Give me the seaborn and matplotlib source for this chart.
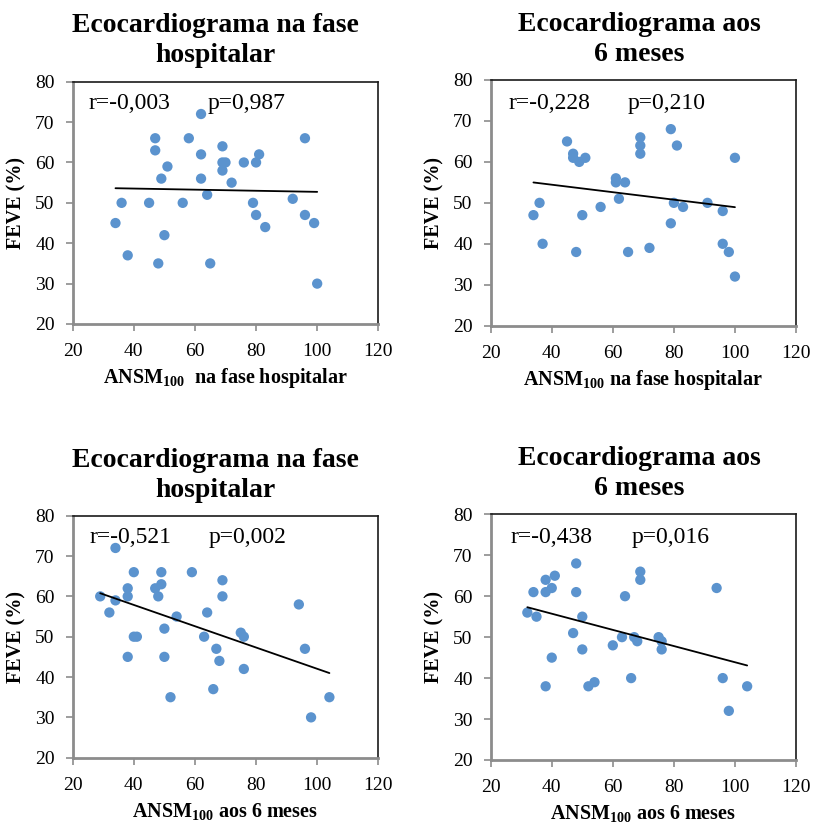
import numpy as np
import pandas as pd
import matplotlib
matplotlib.use("Agg")
import matplotlib.pyplot as plt
import seaborn as sns

# ---------------- data ----------------
# Panel 1: ANSM100 (hospital phase) vs FEVE (hospital echo)
p1_x = [62, 47, 58, 96, 69, 47, 62, 81, 69, 70, 76, 80, 51, 69, 49, 62, 72, 64,
        36, 45, 56, 79, 92, 80, 96, 34, 99, 83, 50, 38, 48, 65, 100]
p1_y = [72, 66, 66, 66, 64, 63, 62, 62, 60, 60, 60, 60, 59, 58, 56, 56, 55, 52,
        50, 50, 50, 50, 51, 47, 47, 45, 45, 44, 42, 37, 35, 35, 30]

# Panel 2: ANSM100 (hospital phase) vs FEVE (6 months echo)
p2_x = [79, 45, 69, 69, 81, 47, 47, 69, 49, 51, 100, 61, 61, 64, 62, 36, 80, 91,
        56, 83, 96, 34, 50, 79, 37, 96, 72, 48, 65, 98, 100]
p2_y = [68, 65, 66, 64, 64, 62, 61, 62, 60, 61, 61, 56, 55, 55, 51, 50, 50, 50,
        49, 49, 48, 47, 47, 45, 40, 40, 39, 38, 38, 38, 32]

# Panel 3: ANSM100 (6 months) vs FEVE (hospital echo)
p3_x = [34, 40, 49, 59, 69, 38, 47, 49, 29, 38, 48, 69, 34, 94, 32, 64, 54, 50,
        75, 76, 40, 41, 63, 67, 96, 38, 50, 68, 76, 66, 52, 104, 98]
p3_y = [72, 66, 66, 66, 64, 62, 62, 63, 60, 60, 60, 60, 59, 58, 56, 56, 55, 52,
        51, 50, 50, 50, 50, 47, 47, 45, 45, 44, 42, 37, 35, 35, 30]

# Panel 4: ANSM100 (6 months) vs FEVE (6 months echo)
p4_x = [48, 69, 41, 38, 69, 40, 94, 34, 38, 48, 64, 32, 35, 50, 47, 63, 67, 75,
        68, 76, 60, 50, 76, 40, 66, 96, 54, 52, 38, 104, 98]
p4_y = [68, 66, 65, 64, 64, 62, 62, 61, 61, 61, 60, 56, 55, 55, 51, 50, 50, 50,
        49, 49, 48, 47, 47, 45, 40, 40, 39, 38, 38, 38, 32]

titles = [("Ecocardiograma na fase", "hospitalar"),
          ("Ecocardiograma aos", "6 meses"),
          ("Ecocardiograma na fase", "hospitalar"),
          ("Ecocardiograma aos", "6 meses")]
xlabels = ["ANSM$_{\\mathbf{100}}$  na fase hospitalar",
           "ANSM$_{\\mathbf{100}}$ na fase hospitalar",
           "ANSM$_{\\mathbf{100}}$ aos 6 meses",
           "ANSM$_{\\mathbf{100}}$ aos 6 meses"]
ylabel = "FEVE (%)"
r_texts = ["r=-0,003", "r=-0,228", "r=-0,521", "r=-0,438"]
p_texts = ["p=0,987", "p=0,210", "p=0,002", "p=0,016"]
xticks = [20, 40, 60, 80, 100, 120]
yticks = [20, 30, 40, 50, 60, 70, 80]

# ---------------- style ----------------
sns.set_theme(style="white")
plt.rcParams["font.family"] = ["Liberation Serif", "DejaVu Serif"]
plt.rcParams["text.color"] = "black"
plt.rcParams["axes.labelcolor"] = "black"
plt.rcParams["xtick.color"] = "black"
plt.rcParams["ytick.color"] = "black"
plt.rcParams["mathtext.fontset"] = "custom"
plt.rcParams["mathtext.rm"] = "Liberation Serif:bold"
plt.rcParams["mathtext.bf"] = "Liberation Serif:bold"
plt.rcParams["mathtext.it"] = "Liberation Serif:bold"

W, H = 815, 827
fig = plt.figure(figsize=(W / 100, H / 100), dpi=100)
fig.patch.set_facecolor("white")

# axes rectangles in pixel coordinates (left, top, right, bottom)
rects = [(72.7, 81.7, 378.3, 324.0),
         (490.7, 80.0, 796.0, 325.7),
         (72.7, 515.7, 378.3, 757.7),
         (490.7, 514.3, 796.0, 760.0)]
title_cx = [215, 639, 215, 639]
r_pos = [(0.053, 0.912, 0.443), (0.058, 0.905, 0.447),
         (0.054, 0.911, 0.444), (0.066, 0.906, 0.46)]

datasets = [(p1_x, p1_y), (p2_x, p2_y), (p3_x, p3_y), (p4_x, p4_y)]
marker_color = "#5B93CE"

for i, ((xs, ys), (l, t, r, b)) in enumerate(zip(datasets, rects)):
    ax = fig.add_axes([l / W, 1 - b / H, (r - l) / W, (b - t) / H])
    df = pd.DataFrame({"x": xs, "y": ys})
    sns.regplot(data=df, x="x", y="y", ax=ax, ci=None, truncate=True,
                scatter_kws=dict(s=55, color=marker_color, edgecolor="none",
                                 alpha=1, zorder=3),
                line_kws=dict(color="black", lw=1.3, zorder=4))
    ax.set_xlim(20, 120)
    ax.set_ylim(20, 80)
    ax.set_xticks(xticks)
    ax.set_yticks(yticks)
    ax.set_xlabel("")
    ax.set_ylabel("")
    for s in ["left", "bottom"]:
        ax.spines[s].set_color("#8c8c8c")
        ax.spines[s].set_linewidth(2.0)
    for s in ["top", "right"]:
        ax.spines[s].set_color("#1a1a1a")
        ax.spines[s].set_linewidth(1.2)
    ax.tick_params(axis="both", which="major", direction="out", length=5,
                   width=1.2, color="#8c8c8c", labelsize=14, labelcolor="black",
                   bottom=True, left=True)
    ax.tick_params(axis="x", pad=9)
    ax.tick_params(axis="y", pad=8)

    rx, ry, px = r_pos[i]
    ax.text(rx, ry, r_texts[i], transform=ax.transAxes, fontsize=17,
            ha="left", va="center", color="black")
    ax.text(px, ry, p_texts[i], transform=ax.transAxes, fontsize=17,
            ha="left", va="center", color="black")

    # titles (two lines)
    t1, t2 = titles[i]
    fig.text(title_cx[i] / W, 1 - (t - 55.7) / H, t1, fontsize=20,
             fontweight="bold", ha="center", va="center", color="black")
    fig.text(title_cx[i] / W, 1 - (t - 25.7) / H, t2, fontsize=20,
             fontweight="bold", ha="center", va="center", color="black")

    # x label
    fig.text(((l + r) / 2) / W, 1 - (b + 54) / H, xlabels[i], fontsize=14.5,
             fontweight="bold", ha="center", va="center", color="black")
    # y label
    fig.text((l - 56.7) / W, 1 - ((t + b) / 2) / H, ylabel, fontsize=14.5,
             fontweight="bold", ha="center", va="center", rotation=90,
             color="black")

fig.savefig("out.png", dpi=100, facecolor="white")
